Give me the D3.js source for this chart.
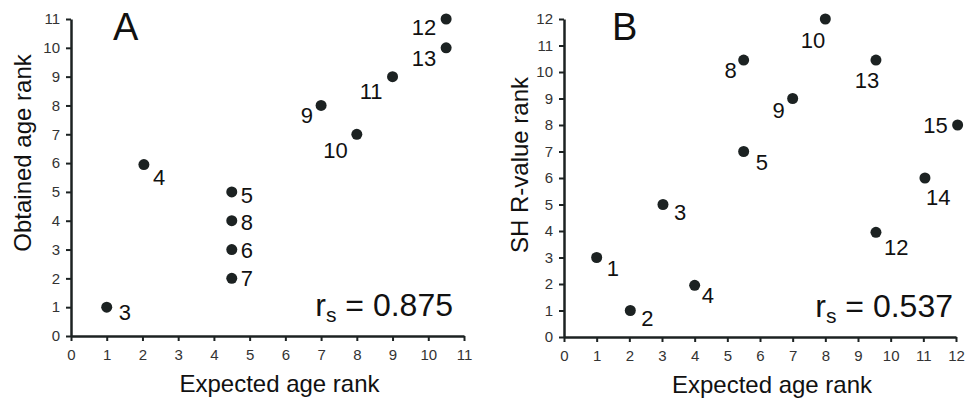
<!DOCTYPE html>
<html>
<head>
<meta charset="utf-8">
<script src="https://cdn.jsdelivr.net/npm/d3@7"></script>
<style>
  body { margin: 0; background: #fff; }
  svg { display: block; font-family: "Liberation Sans", Arial, sans-serif; }
</style>
</head>
<body>
<svg id="chart" width="965" height="399"></svg>
<script>
// Panel A data
const labelsA = ["3", "4", "5", "8", "6", "7", "9", "10", "11", "12", "13"];
const expectedA = [1, 2.04, 4.5, 4.5, 4.5, 4.5, 7, 8, 9, 10.5, 10.5];
const obtainedA = [1, 5.95, 5, 4, 3, 2, 8, 7, 9, 11, 10];
const xTicksA = [0, 1, 2, 3, 4, 5, 6, 7, 8, 9, 10, 11];
const yTicksA = [0, 1, 2, 3, 4, 5, 6, 7, 8, 9, 10, 11];

// Panel B data
const labelsB = ["1", "2", "3", "4", "5", "8", "9", "10", "13", "12", "14", "15"];
const expectedB = [1, 2.03, 3.03, 4, 5.5, 5.5, 7, 8, 9.55, 9.55, 11.05, 12.05];
const rankB = [3, 1, 5, 1.95, 7, 10.45, 9, 12, 10.45, 3.95, 6, 8];
const xTicksB = [0, 1, 2, 3, 4, 5, 6, 7, 8, 9, 10, 11, 12];
const yTicksB = [0, 1, 2, 3, 4, 5, 6, 7, 8, 9, 10, 11, 12];

const rsA = "0.875";
const rsB = "0.537";

// where each point label sits relative to its dot: [anchor, dx, dy]
const placeA = [["start", 12, 13], ["start", 9, 20], ["start", 9, 11], ["start", 9, 9], ["start", 9, 8], ["start", 9, 8],
  ["end", -8, 18], ["end", -9, 24], ["end", -10, 22], ["end", -10, 16], ["end", -10, 18]];
const placeB = [["start", 10, 18], ["start", 11, 15], ["start", 11, 15], ["start", 7, 18], ["start", 12, 18],
  ["end", -7, 18], ["end", -8, 19], ["end", 0, 29], ["middle", -9, 28], ["start", 8, 23], ["start", 1, 27], ["end", -10, 8]];

const ink = "#1c2222";
const svg = d3.select("#chart");

function drawPanel(opt) {
  const g = svg.append("g").attr("transform", `translate(${opt.left},${opt.top})`);
  const w = opt.width, h = opt.height;

  const x = d3.scaleLinear().domain([0, d3.max(opt.xTicks)]).range([0, w]);
  const y = d3.scaleLinear().domain([0, d3.max(opt.yTicks)]).range([h, 0]);

  const xAxis = g.append("g")
    .attr("transform", `translate(0,${h})`)
    .call(d3.axisBottom(x).tickValues(opt.xTicks).tickSize(5).tickSizeOuter(0).tickPadding(8));
  const yAxis = g.append("g")
    .call(d3.axisLeft(y).tickValues(opt.yTicks).tickSize(5).tickSizeOuter(0).tickPadding(6));

  [xAxis, yAxis].forEach(a => {
    a.attr("font-size", null).attr("font-family", null);
    a.select(".domain").attr("stroke", ink).attr("stroke-width", 2.5);
    a.selectAll(".tick line").attr("stroke", ink).attr("stroke-width", 2);
    a.selectAll(".tick text")
      .attr("fill", "#333")
      .style("font-size", "15px");
  });

  // points
  const pts = opt.labels.map((l, i) => ({ label: l, x: opt.xs[i], y: opt.ys[i], p: opt.place[i] }));
  g.append("g").selectAll("circle")
    .data(pts)
    .enter()
    .append("circle")
      .attr("cx", d => x(d.x))
      .attr("cy", d => y(d.y))
      .attr("r", 5.5)
      .attr("fill", ink);

  g.append("g").selectAll("text")
    .data(pts)
    .enter()
    .append("text")
      .attr("x", d => x(d.x) + d.p[1])
      .attr("y", d => y(d.y) + d.p[2])
      .attr("text-anchor", d => d.p[0])
      .attr("fill", "#111")
      .style("font-size", "22px")
      .text(d => d.label);

  // panel letter
  g.append("text")
    .attr("x", opt.letterX)
    .attr("y", 21)
    .attr("fill", "#111")
    .style("font-size", "38px")
    .text(opt.letter);

  // r_s annotation
  const rs = g.append("text")
    .attr("x", w - opt.rsRight)
    .attr("y", h - 20)
    .attr("text-anchor", "end")
    .attr("fill", "#111")
    .style("font-size", "32px");
  rs.append("tspan").text("r");
  rs.append("tspan").attr("dy", 6).style("font-size", "21px").text("s");
  rs.append("tspan").attr("dy", -6).text(" = " + opt.rs);

  // axis titles
  g.append("text")
    .attr("x", w / 2 + 12)
    .attr("y", h + 56)
    .attr("text-anchor", "middle")
    .attr("fill", "#111")
    .style("font-size", "24px")
    .text("Expected age rank");

  g.append("text")
    .attr("transform", `translate(${opt.yTitleX},${opt.yTitleY}) rotate(-90)`)
    .attr("text-anchor", "middle")
    .attr("fill", "#111")
    .style("font-size", "24px")
    .text(opt.yTitle);
}

drawPanel({
  left: 71, top: 19, width: 393, height: 317,
  xTicks: xTicksA, yTicks: yTicksA,
  labels: labelsA, xs: expectedA, ys: obtainedA, place: placeA,
  letter: "A", letterX: 42, rs: rsA, rsRight: 11,
  yTitle: "Obtained age rank", yTitleX: -40, yTitleY: 134
});

drawPanel({
  left: 564, top: 19, width: 392, height: 318,
  xTicks: xTicksB, yTicks: yTicksB,
  labels: labelsB, xs: expectedB, ys: rankB, place: placeB,
  letter: "B", letterX: 48, rs: rsB, rsRight: 3,
  yTitle: "SH R-value rank", yTitleX: -36, yTitleY: 146
});
</script>
</body>
</html>
